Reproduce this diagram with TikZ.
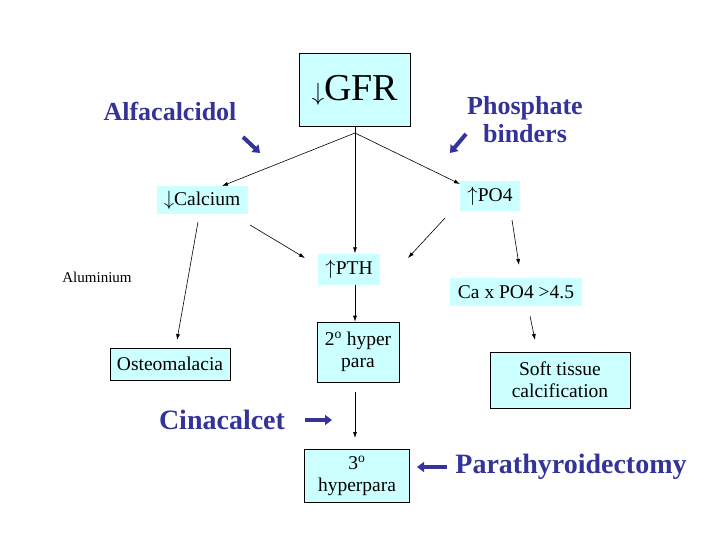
\documentclass[tikz,border=0pt]{standalone}
\usepackage{fontspec}
\setmainfont{Liberation Serif}
\usetikzlibrary{arrows.meta}
\definecolor{boxc}{RGB}{204,255,255}
\definecolor{drugc}{RGB}{51,51,153}
\begin{document}
\begin{tikzpicture}[x=1pt,y=-1pt,
  box/.style={fill=boxc,draw=black,line width=0.6pt,align=center,inner sep=3pt},
  pale/.style={fill=boxc,align=center,inner sep=3pt},
  drug/.style={text=drugc,font=\bfseries\fontsize{26}{28}\selectfont,align=center},
  ar/.style={-{Latex[length=6pt,width=4pt]},line width=0.6pt},
  fat/.style={-{Triangle[length=7pt,width=10pt]},line width=4pt,draw=drugc},
  txt/.style={font=\fontsize{19.5}{22}\selectfont}]
\useasboundingbox (0,0) rectangle (720,540);
\node[box,minimum width=111,minimum height=73,font=\fontsize{38}{42}\selectfont] (gfr) at (355,90) {$\downarrow$GFR};
\node[drug] (alfa) at (170,111) {Alfacalcidol};
\node[drug] (phos) at (525,120) {Phosphate\\binders};
\node[pale,txt,minimum width=91,minimum height=28] (ca) at (202,200) {$\downarrow$Calcium};
\node[pale,txt,minimum width=60,minimum height=30] (po4) at (490,196) {$\uparrow$PO4};
\node[font=\fontsize{15}{17}\selectfont] (al) at (97,277) {Aluminium};
\node[pale,txt,minimum width=62,minimum height=31] (pth) at (349,269) {$\uparrow$PTH};
\node[pale,txt,minimum width=132,minimum height=28] (capo) at (516,292) {Ca x PO4 >4.5};
\node[box,txt,minimum width=120,minimum height=32] (osteo) at (170,364) {Osteomalacia};
\node[box,txt,minimum width=82,minimum height=60] (hyp2) at (358,352) {2\textsuperscript{o} hyper\\para};
\node[box,txt,minimum width=140,minimum height=56] (soft) at (560,380) {Soft tissue\\calcification};
\node[drug,font=\bfseries\fontsize{28}{30}\selectfont] (cina) at (222,420) {Cinacalcet};
\node[box,txt,minimum width=105,minimum height=53] (hyp3) at (357,476) {3\textsuperscript{o}\\hyperpara};
\node[drug,font=\bfseries\fontsize{28}{30}\selectfont] (ptx) at (571,467) {Parathyroidectomy};
\coordinate (apex) at (355,133);
\coordinate (f1a) at (243,137); \coordinate (f1b) at (260,153);
\coordinate (f2a) at (466,134); \coordinate (f2b) at (450,153);
\coordinate (f3a) at (305,420); \coordinate (f3b) at (332,420);
\coordinate (f4a) at (447,467); \coordinate (f4b) at (417,467);
\draw[fat] (f1a) -- (f1b);
\draw[fat] (f2a) -- (f2b);
\draw[fat] (f3a) -- (f3b);
\draw[fat] (f4a) -- (f4b);
\draw[line width=0.6pt] (gfr.south) -- (apex);
\draw[ar] (apex) -- (222,186);
\draw[ar] (apex) -- (460,184);
\draw[ar] (apex) -- (pth.north -| apex);
\draw[ar] (198,222) -- (177,340);
\draw[ar] (250,225) -- (305,258);
\draw[ar] (445,218) -- (408,258);
\draw[ar] (512,220) -- (519,265);
\draw[ar] (530,316) -- (535,340);
\draw[ar] (pth.south -| apex) -- (hyp2.north -| apex);
\draw[ar] (hyp2.south -| apex) ++(0,10) -- (355,438);
\end{tikzpicture}
\end{document}
